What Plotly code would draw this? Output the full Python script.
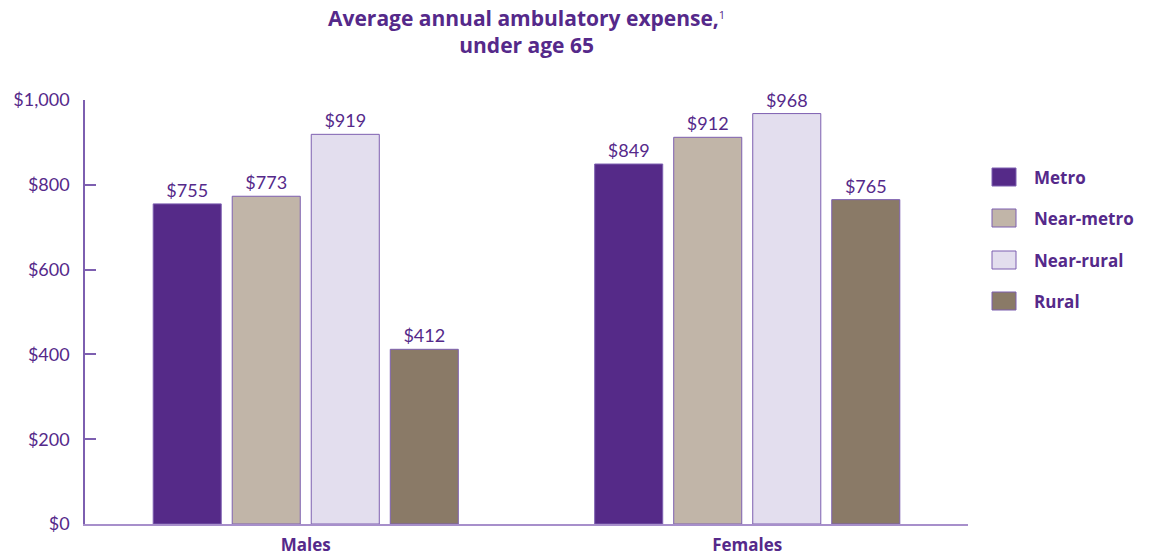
import plotly.graph_objects as go

# Data
groups = ["Males", "Females"]
series = ["Metro", "Near-metro", "Near-rural", "Rural"]
values = {
    "Metro": [755, 849],
    "Near-metro": [773, 912],
    "Near-rural": [919, 968],
    "Rural": [412, 765],
}
y_ticks = [0, 200, 400, 600, 800, 1000]
y_tick_labels = ["$0", "$200", "$400", "$600", "$800", "$1,000"]

colors = {
    "Metro": "#552a88",
    "Near-metro": "#c1b5a8",
    "Near-rural": "#e3deee",
    "Rural": "#8a7a67",
}
PURPLE = "#55298a"
OUTLINE = "#7d5fb0"
FONT = "Lato, 'Open Sans', sans-serif"
BOLD_FONT = "'Open Sans', Lato, sans-serif"

W, H = 1159, 556
L, R, T, B = 85, W - 968, 100, H - 524

fig = go.Figure()
for name in series:
    fig.add_trace(
        go.Bar(
            x=groups,
            y=values[name],
            name=name,
            marker=dict(color=colors[name], line=dict(color=OUTLINE, width=1)),
            text=values[name],
            texttemplate="$%{y:,}",
            textposition="outside",
            textfont=dict(family=FONT, size=18, color=PURPLE),
            cliponaxis=False,
            showlegend=False,
            hovertemplate=name + ": $%{y:,}<extra></extra>",
        )
    )


# Legend and title placed in pixels, converted to paper coordinates
def px_x(px):
    return (px - L) / (W - L - R)


def px_y(py):
    return 1 - (py - T) / (H - T - B)


legend_rows = [177, 218, 260, 301]
for name, cy in zip(series, legend_rows):
    fig.add_shape(
        type="rect",
        xref="paper",
        yref="paper",
        x0=px_x(992),
        x1=px_x(1016),
        y0=px_y(cy - 9),
        y1=px_y(cy + 9),
        fillcolor=colors[name],
        line=dict(color=OUTLINE, width=1),
    )
    fig.add_annotation(
        xref="paper",
        yref="paper",
        x=px_x(1032),
        y=px_y(cy),
        xanchor="left",
        yanchor="middle",
        text=f"<b>{name}</b>",
        showarrow=False,
        font=dict(family=BOLD_FONT, size=17, color=PURPLE),
    )

fig.add_annotation(
    xref="paper",
    yref="paper",
    x=0.5,
    y=px_y(2),
    xanchor="center",
    yanchor="top",
    text="<b>Average annual ambulatory expense,</b><span style='font-size:16px'><sup>1</sup></span><br><b>under age 65</b>",
    showarrow=False,
    font=dict(family=BOLD_FONT, size=21, color=PURPLE),
)

fig.update_layout(
    width=W,
    height=H,
    margin=dict(l=L, r=R, t=T, b=B, autoexpand=False),
    paper_bgcolor="white",
    plot_bgcolor="white",
    barmode="group",
    bargap=0.284,
    bargroupgap=0.139,
    font=dict(family=FONT, color=PURPLE),
)
fig.update_xaxes(
    automargin=False,
    showline=True,
    linecolor="#a78fcb",
    linewidth=2,
    ticks="",
    ticklabelstandoff=5,
    tickfont=dict(family=BOLD_FONT, size=17, color=PURPLE, weight="bold"),
    showgrid=False,
    range=[-0.5, 1.5],
)
fig.update_yaxes(
    automargin=False,
    range=[0, 1000],
    tickvals=y_ticks,
    ticktext=y_tick_labels,
    showgrid=False,
    zeroline=False,
    showline=True,
    linecolor=OUTLINE,
    linewidth=1.5,
    ticks="inside",
    ticklen=11,
    tickcolor=OUTLINE,
    tickwidth=1.5,
    ticklabelstandoff=10,
    tickfont=dict(family=FONT, size=18, color=PURPLE),
)

fig.write_html(
    "out.html",
    config={"displayModeBar": False},
    post_script="document.body.style.margin='0';",
)
